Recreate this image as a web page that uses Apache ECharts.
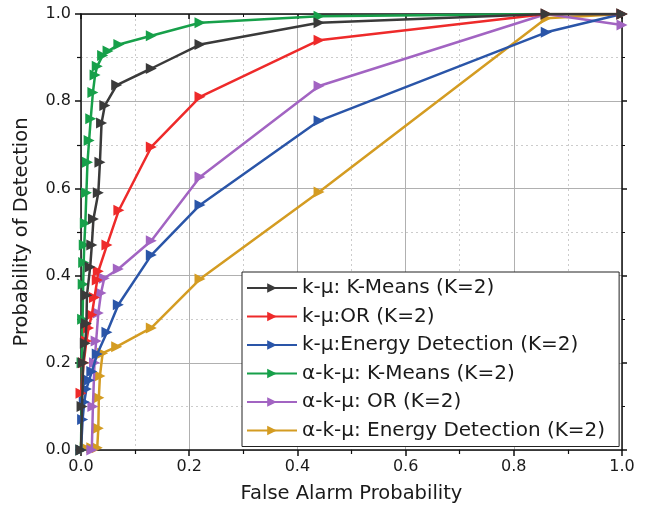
<!DOCTYPE html>
<html>
<head>
<meta charset="utf-8">
<script src="https://cdn.jsdelivr.net/npm/echarts@6/dist/echarts.min.js"></script>
<style>html,body{margin:0;padding:0;background:#fff;}#c{width:647px;height:523px;}</style>
</head>
<body>
<div id="c"></div>
<script>
// Series data: [false alarm probability, probability of detection]
var kmuKMeans = [[0,0],[0.002,0.1],[0.004,0.2],[0.008,0.245],[0.01,0.29],[0.011,0.355],[0.017,0.42],[0.02,0.47],[0.023,0.53],[0.032,0.59],[0.035,0.66],[0.038,0.75],[0.044,0.79],[0.066,0.837],[0.13,0.875],[0.22,0.93],[0.44,0.98],[0.86,1],[1,1]];
var kmuOR = [[0,0.13],[0.005,0.2],[0.01,0.25],[0.014,0.28],[0.02,0.31],[0.025,0.35],[0.03,0.39],[0.032,0.41],[0.048,0.47],[0.07,0.55],[0.13,0.695],[0.22,0.81],[0.44,0.94],[0.86,1],[1,1]];
var kmuED = [[0,0],[0.003,0.07],[0.006,0.11],[0.01,0.14],[0.015,0.16],[0.02,0.18],[0.03,0.22],[0.048,0.27],[0.069,0.333],[0.13,0.447],[0.22,0.562],[0.44,0.755],[0.86,0.958],[1,1]];
var akmuKMeans = [[0,0],[0.002,0.2],[0.003,0.3],[0.004,0.38],[0.005,0.43],[0.006,0.47],[0.008,0.52],[0.01,0.59],[0.012,0.66],[0.015,0.71],[0.018,0.76],[0.022,0.82],[0.026,0.86],[0.03,0.88],[0.04,0.905],[0.05,0.915],[0.07,0.93],[0.13,0.95],[0.22,0.98],[0.44,0.995],[0.86,1],[1,1]];
var akmuOR = [[0.02,0],[0.022,0.1],[0.025,0.2],[0.028,0.25],[0.032,0.314],[0.037,0.36],[0.043,0.394],[0.069,0.415],[0.13,0.48],[0.22,0.626],[0.44,0.835],[0.86,1],[1,0.975]];
var akmuED = [[0,0],[0.008,0.005],[0.02,0.005],[0.03,0.005],[0.032,0.05],[0.033,0.12],[0.035,0.17],[0.04,0.222],[0.066,0.237],[0.13,0.28],[0.22,0.392],[0.44,0.592],[0.86,0.99],[1,1]];

var seriesNames = ['k-\u03bc: K-Means (K=2)','k-\u03bc:OR (K=2)','k-\u03bc:Energy Detection (K=2)','\u03b1-k-\u03bc: K-Means (K=2)','\u03b1-k-\u03bc: OR (K=2)','\u03b1-k-\u03bc: Energy Detection (K=2)'];
var seriesData = [kmuKMeans, kmuOR, kmuED, akmuKMeans, akmuOR, akmuED];
var colors = ['#3a3a3a','#ee2a2a','#2a55a8','#17a04a','#a264c2','#d49c22'];
var ticks = [0, 0.2, 0.4, 0.6, 0.8, 1.0];

var font = 'DejaVu Sans, Liberation Sans, Arial, sans-serif';
var chart = echarts.init(document.getElementById('c'));
function mkSeries(i){
  return {
    name: seriesNames[i], type: 'line', data: seriesData[i],
    symbol: 'triangle', symbolRotate: -90, symbolSize: 11, showSymbol: true,
    lineStyle: {color: colors[i], width: 2.5},
    itemStyle: {color: colors[i]},
    z: 10 - i
  };
}
var series = [];
for (var i = 0; i < 6; i++) series.push(mkSeries(i));
series = [series[5], series[4], series[2], series[1], series[0], series[3]];

var labelFmt = function(v){return v.toFixed(1);};
chart.setOption({
  animation: false,
  backgroundColor: '#fff',
  color: colors,
  grid: {left: 81, right: 25, top: 14, bottom: 73},
  legend: {
    data: seriesNames,
    orient: 'vertical', left: 242, top: 272,
    itemWidth: 50, itemHeight: 12, itemGap: 8.5,
    padding: [6, 14, 6, 4],
    backgroundColor: '#fff', borderColor: '#222', borderWidth: 1,
    textStyle: {fontFamily: font, fontSize: 20, lineHeight: 20, color: '#1a1a1a'}
  },
  xAxis: [{
    type: 'value', min: 0, max: 1, interval: 0.2,
    name: 'False Alarm Probability', nameLocation: 'middle', nameGap: 34,
    nameTextStyle: {fontFamily: font, fontSize: 19.5, color: '#1a1a1a'},
    axisLine: {show: true, onZero: false, lineStyle: {color: '#111', width: 1.5}},
    axisTick: {show: true, inside: false, length: 6, lineStyle: {color: '#111', width: 1.5}},
    minorTick: {show: true, splitNumber: 2, length: 4, lineStyle: {color: '#111', width: 1.2}},
    splitLine: {show: true, lineStyle: {color: '#b0b0b0', width: 1}},
    minorSplitLine: {show: true, lineStyle: {color: '#cccccc', width: 1, type: [2, 3]}},
    axisLabel: {fontFamily: font, fontSize: 16, color: '#1a1a1a', margin: 9, formatter: labelFmt}
  }, {
    type: 'value', min: 0, max: 1, interval: 0.2, position: 'top',
    axisLine: {show: true, onZero: false, lineStyle: {color: '#111', width: 1.5}},
    axisTick: {show: true, inside: true, length: 5, lineStyle: {color: '#111', width: 1.5}},
    minorTick: {show: true, splitNumber: 2, length: 3, lineStyle: {color: '#111'}},
    splitLine: {show: false}, axisLabel: {show: false}
  }],
  yAxis: [{
    type: 'value', min: 0, max: 1, interval: 0.2,
    name: 'Probability of Detection', nameLocation: 'middle', nameGap: 49,
    nameTextStyle: {fontFamily: font, fontSize: 19.5, color: '#1a1a1a'},
    axisLine: {show: true, onZero: false, lineStyle: {color: '#111', width: 1.5}},
    axisTick: {show: true, inside: false, length: 6, lineStyle: {color: '#111', width: 1.5}},
    minorTick: {show: true, splitNumber: 2, length: 4, lineStyle: {color: '#111', width: 1.2}},
    splitLine: {show: true, lineStyle: {color: '#b0b0b0', width: 1}},
    minorSplitLine: {show: true, lineStyle: {color: '#cccccc', width: 1, type: [2, 3]}},
    axisLabel: {fontFamily: font, fontSize: 16, color: '#1a1a1a', margin: 10, formatter: labelFmt}
  }, {
    type: 'value', min: 0, max: 1, interval: 0.2, position: 'right',
    axisLine: {show: true, onZero: false, lineStyle: {color: '#111', width: 1.5}},
    axisTick: {show: true, inside: false, length: 5, lineStyle: {color: '#111', width: 1.5}},
    minorTick: {show: true, splitNumber: 2, length: 3, lineStyle: {color: '#111'}},
    splitLine: {show: false}, axisLabel: {show: false}
  }],
  series: series
});
</script>
</body>
</html>
